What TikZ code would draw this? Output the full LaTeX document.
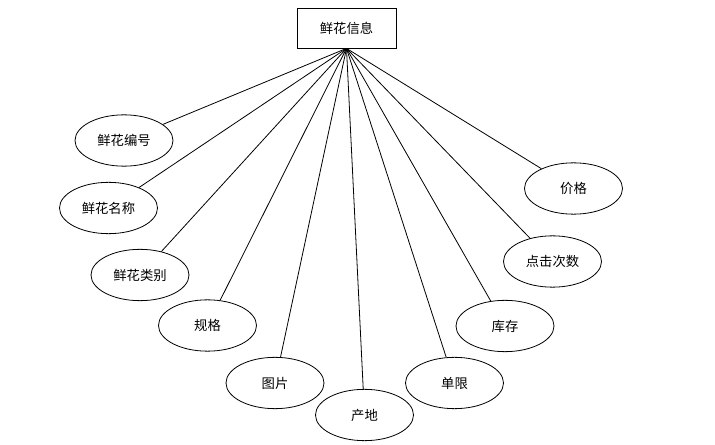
\documentclass[tikz,border=0pt]{standalone}
\usepackage{fontspec}
\setmainfont{Noto Sans CJK SC}
\usetikzlibrary{shapes.geometric}
\tikzset{
    attr/.style={draw, ellipse, minimum width=73.5pt, minimum height=38.5pt, inner sep=0pt, font=\fontsize{10}{12}\selectfont},
    entity/.style={draw, rectangle, minimum width=74.25pt, minimum height=30pt, inner sep=0pt, font=\fontsize{10}{12}\selectfont}
}
\begin{document}
\begin{tikzpicture}[x=0.75pt, y=-0.75pt, line width=0.6pt]
\useasboundingbox (0,0) rectangle (715,445);
\node[entity] (info) at (346.5, 28) {鲜花信息};
\foreach \k/\x/\y/\t in {1/124/140.5/鲜花编号, 2/108.5/208/鲜花名称, 3/140/275/鲜花类别, 4/207.5/325.5/规格, 5/275/383/图片, 6/364.5/415/产地, 7/454.5/383/单限, 8/505/326/库存, 9/552.5/261.5/点击次数, 10/573.5/188.5/价格}
    \node[attr] (A\k) at (\x, \y) {\t};
\foreach \k in {1,...,10}
    \draw (info.south) -- (A\k);
\end{tikzpicture}
\end{document}
